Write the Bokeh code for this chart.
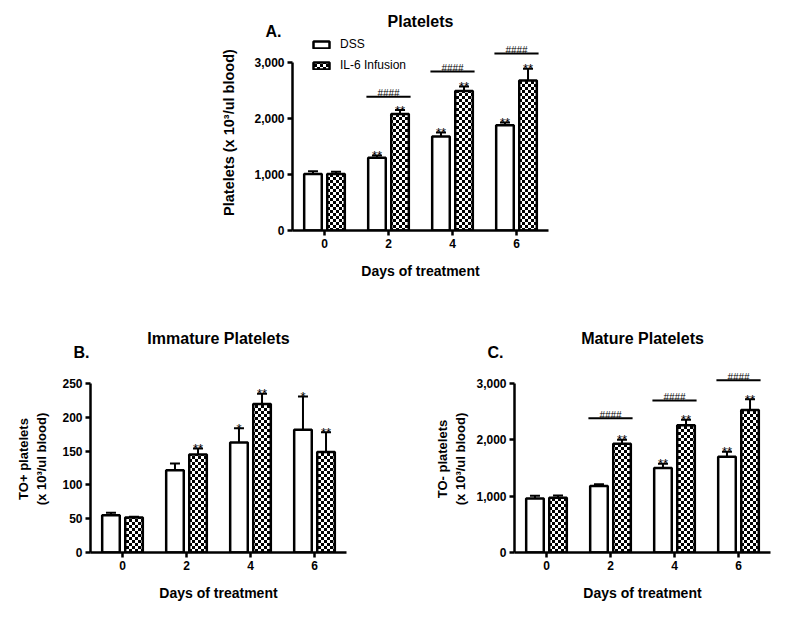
import zlib, struct, base64
from bokeh.plotting import figure
from bokeh.models import (ColumnDataSource, Whisker, TeeHead, FixedTicker,
                          NumeralTickFormatter, Range1d, Title, ImageURLTexture)
from bokeh.layouts import column, row
from bokeh.core.properties import value
from bokeh.embed import file_html
from bokeh.resources import INLINE

FONT = "Liberation Sans"

# ---------------- data ----------------
days = [0, 2, 4, 6]
series = ["DSS", "IL-6 Infusion"]

# A. Platelets (x10^3/ul blood)
a_dss = [1010, 1300, 1680, 1880]
a_dss_err = [50, 40, 70, 50]
a_il6 = [1010, 2080, 2490, 2680]
a_il6_err = [40, 70, 80, 210]
a_dss_sig = ["", "**", "**", "**"]
a_il6_sig = ["", "**", "**", "**"]
a_hash_days = [2, 4, 6]
a_hash_y = [2390, 2840, 3160]
a_yticks = [0, 1000, 2000, 3000]

# B. Immature platelets (TO+)
b_dss = [55, 122, 163, 182]
b_dss_err = [4, 10, 21, 49]
b_il6 = [52, 145, 220, 149]
b_il6_err = [1, 9, 15, 29]
b_dss_sig = ["", "", "*", "*"]
b_il6_sig = ["", "**", "**", "**"]
b_yticks = [0, 50, 100, 150, 200, 250]

# C. Mature platelets (TO-)
c_dss = [960, 1180, 1500, 1700]
c_dss_err = [46, 30, 75, 90]
c_il6 = [970, 1930, 2260, 2530]
c_il6_err = [40, 70, 95, 190]
c_dss_sig = ["", "", "**", "**"]
c_il6_sig = ["", "**", "**", "**"]
c_hash_days = [2, 4, 6]
c_hash_y = [2385, 2700, 3060]
c_yticks = [0, 1000, 2000, 3000]

HASH_TEXT = "####"

# ---------------- style ----------------
OFF = 0.36
BAR_W = 0.55
LW = 2.5


def checker_png(n=6, c=3):
    raw = b""
    for yy in range(n):
        raw += b"\x00"
        for xx in range(n):
            black = ((xx // c) + (yy // c)) % 2 == 0
            raw += b"\x00\x00\x00\xff" if black else b"\xff\xff\xff\xff"

    def chunk(t, d):
        return (struct.pack(">I", len(d)) + t + d +
                struct.pack(">I", zlib.crc32(t + d) & 0xffffffff))
    ihdr = struct.pack(">IIBBBBB", n, n, 8, 6, 0, 0, 0)
    png = (b"\x89PNG\r\n\x1a\n" + chunk(b"IHDR", ihdr) +
           chunk(b"IDAT", zlib.compress(raw)) + chunk(b"IEND", b""))
    return "data:image/png;base64," + base64.b64encode(png).decode()


CHECKER_URL = checker_png()


def style_axes(p, yticks, fmt, ylabel, ylab_standoff, ylab_size):
    p.xaxis.ticker = FixedTicker(ticks=days)
    p.yaxis.ticker = FixedTicker(ticks=yticks)
    if fmt:
        p.yaxis.formatter = NumeralTickFormatter(format=fmt)
    p.xaxis.bounds = (-1, 7)
    p.yaxis.bounds = (0, yticks[-1])
    for ax in (p.xaxis, p.yaxis):
        ax.axis_line_width = LW
        ax.axis_line_color = "black"
        ax.major_tick_line_width = LW
        ax.major_tick_line_color = "black"
        ax.major_tick_out = 5
        ax.major_tick_in = 0
        ax.minor_tick_line_color = None
        ax.major_label_text_font = FONT
        ax.major_label_text_font_style = "bold"
        ax.major_label_text_font_size = "12px"
        ax.major_label_text_color = "black"
        ax.major_label_standoff = 3
        ax.axis_label_text_font = FONT
        ax.axis_label_text_font_style = "bold"
        ax.axis_label_text_color = "black"
    p.xaxis.axis_label = "Days of treatment"
    p.xaxis.axis_label_text_font_size = "14px"
    p.xaxis.axis_label_standoff = 12
    p.yaxis.axis_label = ylabel
    p.yaxis.axis_label_text_font_size = ylab_size
    p.yaxis.axis_label_standoff = ylab_standoff


def panel(title, letter, letter_off, letter_standoff, title_standoff,
          ylabel, ylab_size, y_end, yticks, fmt,
          dss, dss_err, il6, il6_err, dss_sig, il6_sig, hash_days, hash_y,
          width, height, bl, br, bt, bb, ylab_standoff, legend_loc=None):
    p = figure(width=width, height=height, x_range=Range1d(-1, 7),
               y_range=Range1d(0, y_end), output_backend="svg",
               toolbar_location=None, min_border_left=bl, min_border_right=br,
               min_border_top=bt, min_border_bottom=bb)
    p.outline_line_color = None
    p.grid.visible = False
    p.background_fill_color = "white"
    p.border_fill_color = "white"

    p.title.text = title
    p.title.align = "center"
    p.title.text_font = FONT
    p.title.text_font_style = "bold"
    p.title.text_font_size = "16px"
    p.title.text_color = "black"
    p.title.standoff = title_standoff

    p.add_layout(Title(text=letter, align="left", offset=letter_off,
                       standoff=letter_standoff, text_font=FONT,
                       text_font_style="bold", text_font_size="16px",
                       text_color="black"), "above")

    x_dss = [d - OFF for d in days]
    x_il6 = [d + OFF for d in days]
    s_dss = ColumnDataSource(dict(x=x_dss, top=dss, up=[v + e for v, e in zip(dss, dss_err)], sig=dss_sig))
    s_il6 = ColumnDataSource(dict(x=x_il6, top=il6, up=[v + e for v, e in zip(il6, il6_err)], sig=il6_sig))

    for src in (s_dss, s_il6):
        p.add_layout(Whisker(base="x", lower="top", upper="up", source=src,
                             line_color="black", line_width=2,
                             upper_head=TeeHead(size=10, line_width=2, line_color="black"),
                             lower_head=None))

    kw = dict(legend_label=series[0]) if legend_loc is not None else {}
    p.vbar(x="x", top="top", width=BAR_W, bottom=0, source=s_dss,
           fill_color="white", line_color="black", line_width=LW, **kw)
    kw = dict(legend_label=series[1]) if legend_loc is not None else {}
    p.vbar(x="x", top="top", width=BAR_W, bottom=0, source=s_il6,
           fill_color="white", line_color="black", line_width=LW,
           hatch_color="black", hatch_pattern=value("chk"),
           hatch_extra={"chk": ImageURLTexture(url=CHECKER_URL)}, **kw)

    for src in (s_dss, s_il6):
        p.text(x="x", y="up", text="sig", source=src, text_align="center",
               text_baseline="alphabetic", text_font=value(FONT),
               text_font_size="13px", text_color="black")

    if hash_days:
        hs = ColumnDataSource(dict(x0=[d - 0.69 for d in hash_days],
                                   x1=[d + 0.69 for d in hash_days],
                                   xc=hash_days, y=hash_y,
                                   t=[HASH_TEXT] * len(hash_days)))
        p.segment(x0="x0", y0="y", x1="x1", y1="y", source=hs,
                  line_color="black", line_width=2)
        p.text(x="xc", y="y", text="t", source=hs, text_align="center",
               text_baseline="alphabetic", y_offset=-3,
               text_font=value(FONT), text_font_size="10px", text_color="black")

    style_axes(p, yticks, fmt, ylabel, ylab_standoff, ylab_size)

    if legend_loc is not None:
        lg = p.legend[0]
        lg.location = legend_loc
        lg.border_line_color = None
        lg.background_fill_alpha = 0
        lg.padding = 0
        lg.margin = 0
        lg.spacing = 7
        lg.glyph_width = 20
        lg.glyph_height = 9
        lg.label_height = 14
        lg.label_standoff = 9
        lg.label_text_font = FONT
        lg.label_text_font_size = "12px"
        lg.label_text_color = "black"
    return p


pA = panel("Platelets", "A.", -27, -10, -9,
           "Platelets (x 10\u00b3/ul blood)", "14.5px", 3500, a_yticks, "0,0",
           a_dss, a_dss_err, a_il6, a_il6_err, a_dss_sig, a_il6_sig,
           a_hash_days, a_hash_y,
           width=568, height=300, bl=292, br=20, bt=34, bb=70,
           ylab_standoff=14, legend_loc=(19, 158))

pB = panel("Immature Platelets", "B.", -17, 10, -20,
           "TO+ platelets\n(x 10\u00b3/ul blood)", "13px", 277, b_yticks, None,
           b_dss, b_dss_err, b_il6, b_il6_err, b_dss_sig, b_il6_sig,
           [], [],
           width=366, height=305, bl=90, br=20, bt=65, bb=53,
           ylab_standoff=10)

pC = panel("Mature Platelets", "C.", -27, 10, -20,
           "TO- platelets\n(x 10\u00b3/ul blood)", "13px", 3320, c_yticks, "0,0",
           c_dss, c_dss_err, c_il6, c_il6_err, c_dss_sig, c_il6_sig,
           c_hash_days, c_hash_y,
           width=410, height=305, bl=148, br=6, bt=65, bb=53,
           ylab_standoff=5)

layout = column(pA, row(pB, pC))
open("out.html", "w").write(file_html(layout, INLINE))
